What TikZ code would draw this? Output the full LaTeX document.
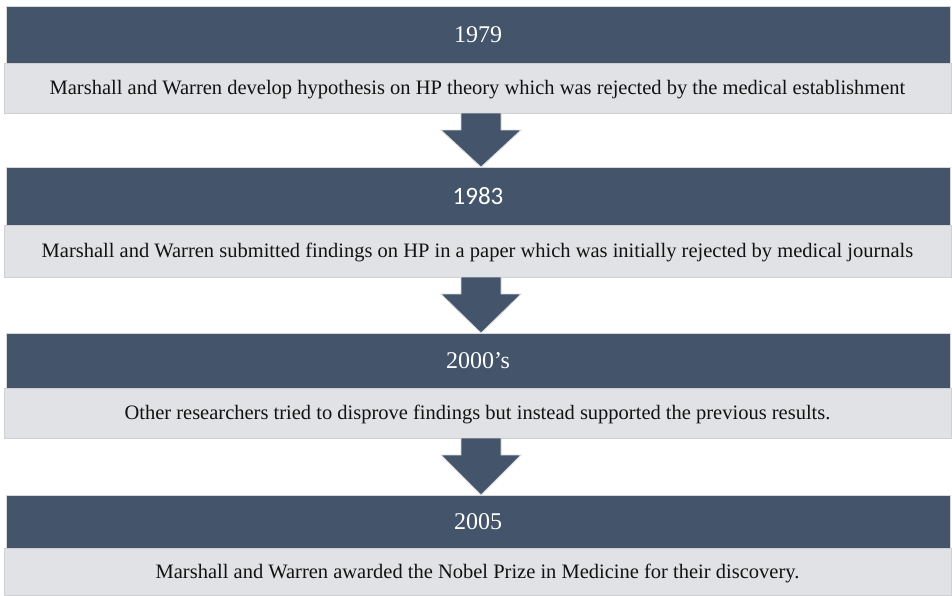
\documentclass[tikz,border=0pt]{standalone}
\usepackage{fontspec}
\setmainfont{Liberation Serif}
\newfontfamily\calfont{Carlito}
\usetikzlibrary{calc}
\definecolor{hdrcol}{RGB}{68,84,106}
\definecolor{hdredge}{RGB}{214,216,220}
\definecolor{bandcol}{RGB}{225,226,229}
\definecolor{bandedge}{RGB}{206,208,212}
\definecolor{txtcol}{RGB}{18,18,18}
\newcommand\bigdownarrow[2]{%
  \path[arrowbox] let \p1=(#1.south), \p2=(#2.north) in
    (\x1+3.5pt-20pt,\y1) -- (\x1+3.5pt+20pt,\y1) -- (\x1+3.5pt+20pt,\y1-17pt)
    -- (\x1+3.5pt+40pt,\y1-17pt) -- (\x1+3.5pt,\y2) -- (\x1+3.5pt-40pt,\y1-17pt)
    -- (\x1+3.5pt-20pt,\y1-17pt) -- cycle;}
\begin{document}
\begin{tikzpicture}[x=1pt,y=-1pt,
  hdrbox/.style={draw=hdredge, line width=0.8pt, fill=hdrcol, text=white,
    inner sep=0pt, outer sep=0pt, minimum width=944pt, text height=16pt, text depth=0pt,
    font=\fontsize{24}{27}\selectfont},
  bandbox/.style={draw=bandedge, line width=0.8pt, fill=bandcol, text=txtcol,
    inner sep=0pt, outer sep=0pt, minimum width=947pt, text height=14pt, text depth=1pt,
    font=\fontsize{20.5}{24}\selectfont},
  arrowbox/.style={fill=hdrcol, draw=hdredge, line width=0.8pt}]
\useasboundingbox (0,0) rectangle (952,595);
\fill[white] (0,0) rectangle (952,595);

\node[hdrbox, minimum height=57pt] (h1) at (478,34.5) {1979};
\node[bandbox, minimum height=50pt] (b1) at (477.5,88) {Marshall and Warren develop hypothesis on HP theory which was rejected by the medical establishment};

\node[hdrbox, minimum height=58pt, font=\calfont\fontsize{25}{28}\selectfont] (h2) at (478,196) {1983};
\node[bandbox, minimum height=52pt] (b2) at (477.5,251) {Marshall and Warren submitted findings on HP in a paper which was initially rejected by medical journals};

\node[hdrbox, minimum height=55pt] (h3) at (478,360.5) {2000’s};
\node[bandbox, minimum height=50pt] (b3) at (477.5,413) {Other researchers tried to disprove findings but instead supported the previous results.};

\node[hdrbox, minimum height=53pt] (h4) at (478,521.5) {2005};
\node[bandbox, minimum height=47pt] (b4) at (477.5,571.5) {Marshall and Warren awarded the Nobel Prize in Medicine for their discovery.};

\bigdownarrow{b1}{h2}
\bigdownarrow{b2}{h3}
\bigdownarrow{b3}{h4}
\end{tikzpicture}
\end{document}
